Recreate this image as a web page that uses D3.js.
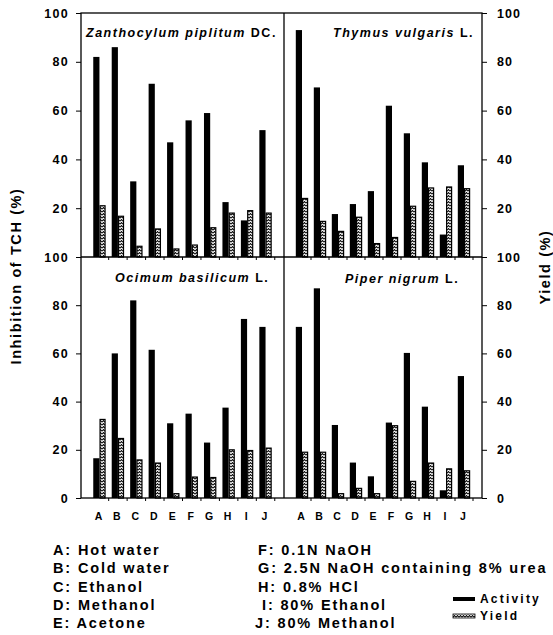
<!DOCTYPE html>
<html lang="en">
<head>
<meta charset="UTF-8">
<title>TCH inhibition and yield</title>
<style>
  body { margin: 0; background: #fff; }
  svg { display: block; font-family: "Liberation Sans", Arial, sans-serif; font-weight: bold; }
</style>
</head>
<body>
<svg id="svg"></svg>
<script src="https://d3js.org/d3.v7.min.js"></script>
<script>
// extraction solvents (x categories)
const solvents = ["A", "B", "C", "D", "E", "F", "G", "H", "I", "J"];
const solventNames = [
  "Hot water", "Cold water", "Ethanol", "Methanol", "Acetone",
  "0.1N NaOH", "2.5N NaOH containing 8% urea", "0.8% HCl", "80% Ethanol", "80% Methanol"
];
const yTicks = [0, 20, 40, 60, 80, 100];

// activity = inhibition of TCH (%), yield (%)
const zanthoActivity = [82, 86, 31, 71, 47, 56, 59, 22.5, 15, 52];
const zanthoYield    = [21, 16.7, 4.4, 11.5, 3.3, 4.9, 12, 18, 19, 18];
const thymusActivity = [93, 69.5, 17.6, 21.7, 27, 62, 50.7, 38.8, 9.2, 37.6];
const thymusYield    = [24, 14.6, 10.5, 16.3, 5.5, 8, 20.8, 28.3, 28.7, 28];
const ocimumActivity = [16.5, 60, 82, 61.5, 31, 35, 23, 37.5, 74.3, 71];
const ocimumYield    = [32.6, 24.7, 15.8, 14.5, 1.8, 8.7, 8.5, 20, 19.7, 20.7];
const piperActivity  = [71, 87, 30.3, 14.7, 9, 31.3, 60.2, 37.9, 3.2, 50.6];
const piperYield     = [19, 19, 1.8, 4, 1.8, 30, 6.9, 14.5, 12.1, 11.3];

const W = 553, H = 635;
const xLeft = 81, xMid = 284, xRight = 482;
const yTop = 13, yMid = 257, yBottom = 498;
const barW = 6.2;

const svg = d3.select("#svg").attr("width", W).attr("height", H);
svg.append("rect").attr("width", W).attr("height", H).attr("fill", "#fff");

// yield hatch
const pat = svg.append("defs").append("pattern")
  .attr("id", "wave").attr("patternUnits", "userSpaceOnUse")
  .attr("width", 3).attr("height", 3);
pat.append("rect").attr("width", 3).attr("height", 3).attr("fill", "#fff");
pat.append("path").attr("d", "M0,2.2 L1.5,0.6 L3,2.2")
  .attr("fill", "none").attr("stroke", "#000").attr("stroke-width", 1.1);

const panels = [
  {title: "Zanthocylum piplitum", suffix: " DC.", act: zanthoActivity, yld: zanthoYield,
   x0: xLeft, x1: xMid, y0: yTop, y1: yMid, tx: 86, ty: 37, anchor: "start"},
  {title: "Thymus vulgaris", suffix: " L.", act: thymusActivity, yld: thymusYield,
   x0: xMid, x1: xRight, y0: yTop, y1: yMid, tx: 474, ty: 37, anchor: "end"},
  {title: "Ocimum basilicum", suffix: " L.", act: ocimumActivity, yld: ocimumYield,
   x0: xLeft, x1: xMid, y0: yMid, y1: yBottom, tx: 115, ty: 282, anchor: "start"},
  {title: "Piper nigrum", suffix: " L.", act: piperActivity, yld: piperYield,
   x0: xMid, x1: xRight, y0: yMid, y1: yBottom, tx: 345, ty: 283, anchor: "start"}
];

panels.forEach(p => {
  const x = d3.scalePoint().domain(solvents).range([p.x0, p.x1]).padding(1);
  const y = d3.scaleLinear().domain([0, 100]).range([p.y1, p.y0]);
  const g = svg.append("g");
  const rows = solvents.map((s, i) => ({s, a: p.act[i], v: p.yld[i]}));

  g.selectAll(".act").data(rows).join("rect")
    .attr("x", d => x(d.s) - barW).attr("width", barW)
    .attr("y", d => y(d.a)).attr("height", d => y(0) - y(d.a))
    .attr("fill", "#000");

  g.selectAll(".yld").data(rows).join("rect")
    .attr("x", d => x(d.s) + 0.6).attr("width", barW - 1.2)
    .attr("y", d => y(d.v)).attr("height", d => y(0) - y(d.v))
    .attr("fill", "url(#wave)").attr("stroke", "#000").attr("stroke-width", 1.2);

  // small ticks between groups on the base line
  const step = x.step();
  g.selectAll(".xt").data(solvents).join("line")
    .attr("x1", d => x(d) + step / 2).attr("x2", d => x(d) + step / 2)
    .attr("y1", p.y1).attr("y2", p.y1 + 3)
    .attr("stroke", "#000").attr("stroke-width", 1);

  const t = g.append("text").attr("x", p.tx).attr("y", p.ty)
    .attr("text-anchor", p.anchor).attr("font-size", 12.5).attr("letter-spacing", 1.5);
  t.append("tspan").attr("font-style", "italic").text(p.title);
  t.append("tspan").text(p.suffix);

  if (p.y1 === yBottom) {
    g.selectAll(".xl").data(solvents).join("text")
      .attr("x", d => x(d) - 1).attr("y", 520)
      .attr("text-anchor", "middle").attr("font-size", 10.5)
      .text(d => d);
  }

  // y axes (left and right)
  const ticks = p.y0 === yTop ? yTicks.slice(1) : yTicks;
  if (p.x0 === xLeft) {
    const ax = d3.axisLeft(y).tickValues(ticks).tickSize(5).tickPadding(7);
    svg.append("g").attr("transform", `translate(${xLeft},0)`).call(ax)
      .call(a => a.select(".domain").remove())
      .call(a => a.selectAll("text").attr("font-size", 12.5).attr("letter-spacing", 1.3)
        .attr("font-family", null).attr("font-weight", "bold"));
  } else {
    const ax = d3.axisRight(y).tickValues(ticks).tickSize(5).tickPadding(10);
    svg.append("g").attr("transform", `translate(${xRight},0)`).call(ax)
      .call(a => a.select(".domain").remove())
      .call(a => a.selectAll("text").attr("font-size", 12.5).attr("letter-spacing", 1)
        .attr("font-family", null).attr("font-weight", "bold"));
  }
});

// frame
const frame = svg.append("g").attr("fill", "none").attr("stroke", "#000").attr("stroke-width", 1.3);
frame.append("rect").attr("x", xLeft).attr("y", yTop).attr("width", xRight - xLeft).attr("height", yBottom - yTop);
frame.append("line").attr("x1", xLeft).attr("x2", xRight).attr("y1", yMid).attr("y2", yMid);
frame.append("line").attr("x1", xMid).attr("x2", xMid).attr("y1", yTop).attr("y2", yBottom);

// axis titles
svg.append("text").attr("transform", "translate(21,276) rotate(-90)")
  .attr("text-anchor", "middle").attr("font-size", 14.5).attr("letter-spacing", 1.6)
  .text("Inhibition of TCH (%)");
svg.append("text").attr("transform", "translate(550,267) rotate(-90)")
  .attr("text-anchor", "middle").attr("font-size", 14.5).attr("letter-spacing", 1.6)
  .text("Yield (%)");

// solvent key
const key = solvents.map((s, i) => ({s, name: solventNames[i], i}));
svg.append("g").selectAll("text").data(key).join("text")
  .attr("x", d => d.i < 5 ? 53 : (d.s === "I" ? 262 : (d.s === "J" ? 255 : 258)))
  .attr("y", d => 555 + (d.i % 5) * 18.3)
  .attr("font-size", 14.5).attr("letter-spacing", 1.85)
  .text(d => `${d.s}: ${d.name}`);

// series legend
const leg = svg.append("g");
leg.append("rect").attr("x", 453).attr("y", 597).attr("width", 22).attr("height", 4).attr("fill", "#000");
leg.append("rect").attr("x", 453).attr("y", 614).attr("width", 22).attr("height", 4)
  .attr("fill", "url(#wave)").attr("stroke", "#000").attr("stroke-width", 0.8);
leg.append("text").attr("x", 480).attr("y", 603).attr("font-size", 12).attr("letter-spacing", 2.2).text("Activity");
leg.append("text").attr("x", 480).attr("y", 620).attr("font-size", 12).attr("letter-spacing", 2.2).text("Yield");
</script>
</body>
</html>
